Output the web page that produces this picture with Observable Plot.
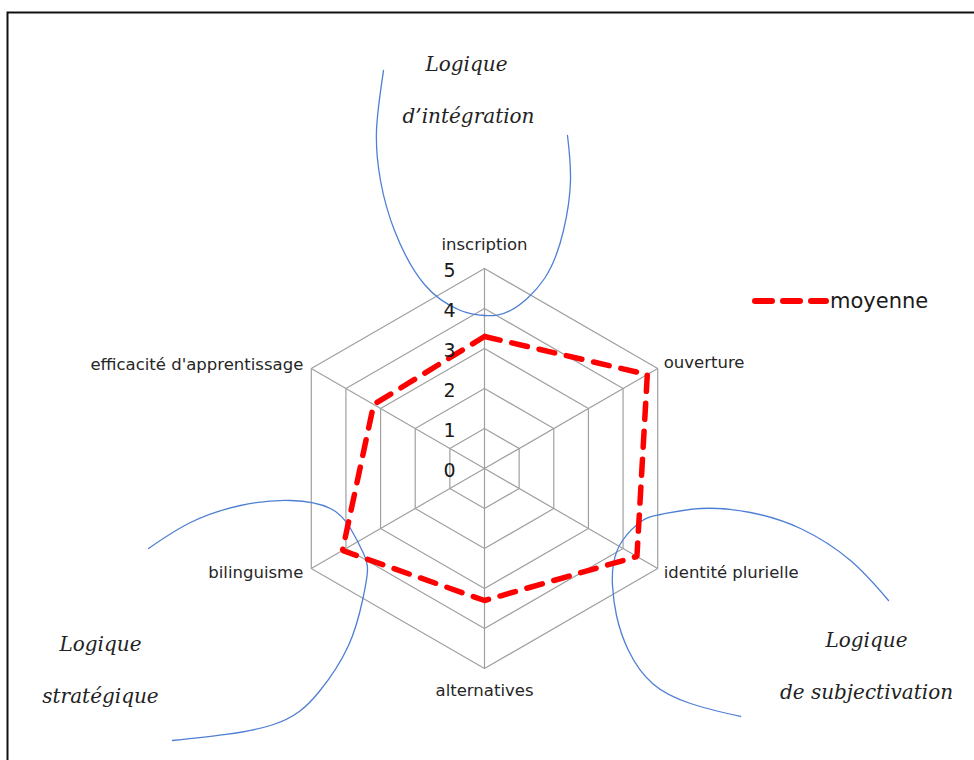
<!DOCTYPE html>
<html>
<head>
<meta charset="utf-8">
<script src="https://cdn.jsdelivr.net/npm/d3@7"></script>
<script src="https://cdn.jsdelivr.net/npm/@observablehq/plot@0.6"></script>
<style>
  html, body { margin: 0; padding: 0; background: #fff; }
  #wrap { position: relative; width: 974px; height: 760px; overflow: hidden; }
  #legend { position: absolute; left: 750px; top: 286px; display: flex; align-items: center;
            font-family: "DejaVu Sans", sans-serif; font-size: 21px; color: #1a1a1a; }
</style>
</head>
<body>
<div id="wrap"><div id="chart"></div>
  <div id="legend"><svg width="80" height="30"><line x1="5" y1="15" x2="76" y2="15" stroke="#ff0000" stroke-width="6" stroke-dasharray="17,11" stroke-linecap="round"/></svg><span>moyenne</span></div>
</div>
<script>
// ---- data ----
const categories = ["inscription", "ouverture", "identité plurielle", "alternatives", "bilinguisme", "efficacité d'apprentissage"];
const moyenne = [3.3, 4.7, 4.4, 3.3, 4.1, 3.2];
const tickValues = [0, 1, 2, 3, 4, 5];
const tickLabels = ["0", "1", "2", "3", "4", "5"];
const maxValue = 5;

// decorative annotation texts (radar units)
const annotationTexts = ["Logique", "d’intégration", "Logique", "stratégique", "Logique", "de subjectivation"];
const annotationU = [-0.45, -0.4, -9.6, -9.6, 9.55, 9.55];
const annotationV = [10.1, 8.8, -4.4, -5.7, -4.3, -5.6];

// decorative arcs (radar units)
const arcTop = [[-2.525, 9.95], [-2.7, 8.45], [-2.6, 7.2], [-2.25, 5.95], [-1.5, 4.6], [-0.6, 3.95], [0, 3.825], [0.65, 3.95], [1.5, 4.75], [1.975, 5.95], [2.15, 7.2], [2.075, 8.325]];
const arcLeft = [[-8.4, -2.0], [-7.35, -1.35], [-6.1, -0.925], [-4.85, -0.8], [-3.85, -1.0], [-3.35, -1.5], [-3.025, -2.125], [-2.925, -2.55], [-3.05, -3.3], [-3.4, -4.425], [-4.15, -5.6], [-5.35, -6.425], [-7.8, -6.8]];
const arcRight = [[10.1, -3.3], [9.15, -2.3], [7.9, -1.5], [6.65, -1.1], [5.4, -1.0], [4.4, -1.15], [3.95, -1.3], [3.45, -1.8], [3.225, -2.375], [3.2, -2.925], [3.3, -3.675], [3.6, -4.55], [4.2, -5.375], [5.15, -5.875], [6.4, -6.2]];

// ---- geometry ----
const n = categories.length;
const angle = i => Math.PI / 2 - i * 2 * Math.PI / n;
const pt = (i, r) => ({u: r * Math.cos(angle(i)), v: r * Math.sin(angle(i))});

const rings = [];
tickValues.filter(t => t > 0).forEach(t => {
  for (let i = 0; i <= n; i++) rings.push({ring: t, ...pt(i % n, t)});
});
const spokes = categories.map((c, i) => ({u1: 0, v1: 0, u2: pt(i, maxValue).u, v2: pt(i, maxValue).v}));
const series = [];
for (let i = 0; i <= n; i++) series.push({cat: categories[i % n], ...pt(i % n, moyenne[i % n])});

const labelCfg = [
  {anchor: "middle", dx: 0, dy: -24},
  {anchor: "start", dx: 6, dy: -6},
  {anchor: "start", dx: 6, dy: 4},
  {anchor: "middle", dx: 0, dy: 22},
  {anchor: "end", dx: -8, dy: 4},
  {anchor: "end", dx: -8, dy: -4}
];
const catLabels = categories.map((c, i) => ({text: c, ...pt(i, maxValue), ...labelCfg[i]}));
const ticks = tickValues.map((t, i) => ({text: tickLabels[i], ...pt(0, t)}));
const annotations = annotationTexts.map((t, i) => ({text: t, u: annotationU[i], v: annotationV[i]}));
const arcs = [];
[arcTop, arcLeft, arcRight].forEach((a, k) => a.forEach(([u, v]) => arcs.push({arc: k, u, v})));

const W = 974, H = 760, pxPerUnit = 40, cx = 484, cy = 468;

const chart = Plot.plot({
  width: W, height: H, margin: 0,
  x: {domain: [-cx / pxPerUnit, (W - cx) / pxPerUnit], axis: null},
  y: {domain: [-(H - cy) / pxPerUnit, cy / pxPerUnit], axis: null},
  style: {background: "#fff"},
  marks: [
    Plot.frame({stroke: "#111", strokeWidth: 2, insetLeft: 7, insetTop: 12, insetRight: -10, insetBottom: -10}),
    Plot.line(rings, {x: "u", y: "v", z: "ring", stroke: "#a0a0a0", strokeWidth: 1.2}),
    Plot.link(spokes, {x1: "u1", y1: "v1", x2: "u2", y2: "v2", stroke: "#a0a0a0", strokeWidth: 1.2}),
    Plot.line(arcs, {x: "u", y: "v", z: "arc", curve: "natural", stroke: "#4f7fd4", strokeWidth: 1.3}),
    Plot.line(series, {x: "u", y: "v", stroke: "#ff0000", strokeWidth: 5.5, strokeDasharray: "16,12", strokeLinecap: "round", strokeLinejoin: "miter"}),
    Plot.text(ticks, {x: "u", y: "v", text: "text", textAnchor: "end", dx: -29, dy: 2, fontSize: 19, fill: "#1a1a1a", fontFamily: "DejaVu Sans"}),
    ...catLabels.map(d => Plot.text([d], {x: "u", y: "v", text: "text", textAnchor: d.anchor, dx: d.dx, dy: d.dy, fontSize: 16.5, fill: "#262626", fontFamily: "DejaVu Sans"})),
    Plot.text(annotations, {x: "u", y: "v", text: "text", fontSize: 20, fontStyle: "italic", fontFamily: "DejaVu Serif", fill: "#222"})
  ]
});
document.getElementById("chart").appendChild(chart);
</script>
</body>
</html>
